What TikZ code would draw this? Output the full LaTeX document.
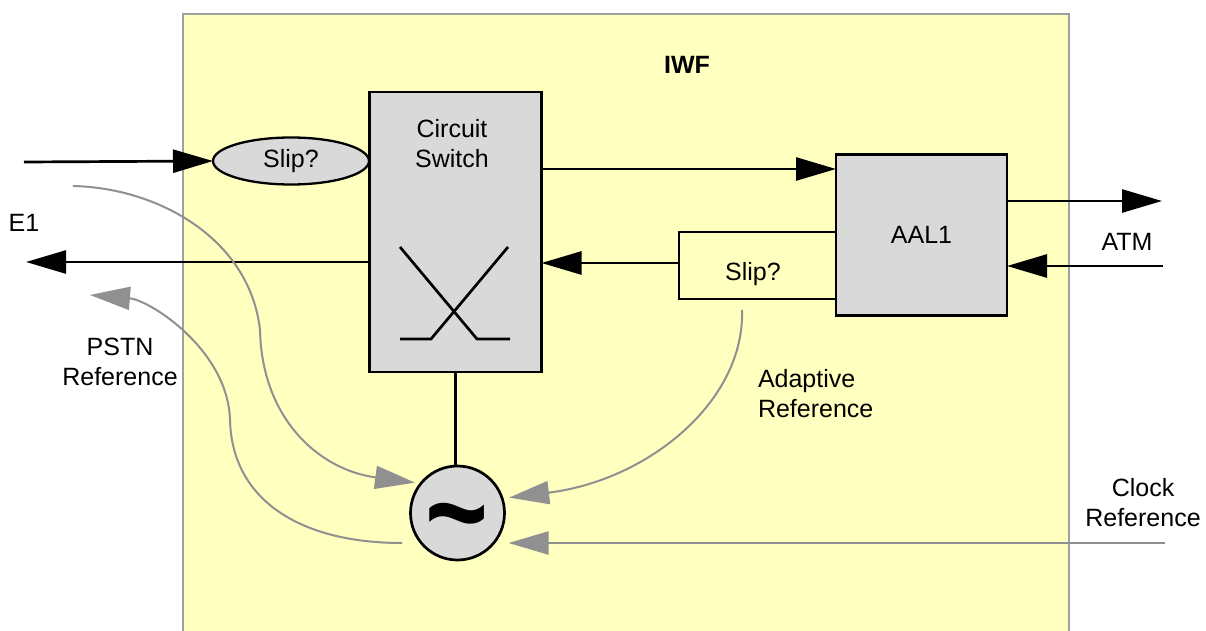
\documentclass[tikz,border=0pt]{standalone}
\usepackage{fontspec}
\setmainfont{Liberation Sans}
\usetikzlibrary{arrows.meta,shapes.geometric}
\definecolor{iwfyellow}{HTML}{FFFFC0}
\definecolor{boxgray}{HTML}{D9D9D9}
\definecolor{refgray}{HTML}{909090}
\definecolor{framegray}{HTML}{A0A0A0}
\begin{document}
\begin{tikzpicture}[x=1pt,y=-1pt,
  every node/.style={font=\fontsize{25}{30}\selectfont, inner sep=0pt, outer sep=0pt},
  block/.style={draw=black, line width=2.7pt, fill=boxgray},
  wire/.style={draw=black, line width=2.7pt},
  sig/.style={wire, -{Triangle[length=40pt,width=23pt]}},
  ref/.style={draw=refgray, line width=2pt, -{Triangle[length=40pt,width=23pt]}},
  lbl/.style={align=center}]
\useasboundingbox (0,0) rectangle (1206,631);
\clip (0,0) rectangle (1206,631);
\fill[white] (0,0) rectangle (1206,631);

% interworking function frame (open at the bottom)
\draw[framegray, line width=2pt, fill=iwfyellow] (183,680) -- (183,14) -- (1069,14) -- (1069,680);
\node (iwf) at (687,65) {\bfseries IWF};

% functional blocks
\node[block, minimum width=172pt, minimum height=280pt] (cs) at (455.5,232) {};
\node[lbl] (cslabel) at (452,144) {Circuit\\Switch};
\node[block, ellipse, line width=2.3pt, minimum width=156pt, minimum height=47pt] (slipin) at (291,161) {Slip?};
\node[block, minimum width=171pt, minimum height=161pt] (aal) at (921.5,235) {AAL1};
\node[block, circle, minimum size=94pt] (osc) at (457.5,513) {};
\node (tilde) at (457,530) {\scalebox{1.1}[1.35]{\fontsize{98}{98}\selectfont\bfseries\textasciitilde}};

% switching symbol
\draw[wire] (400,247) -- (477,339) -- (510,339);
\draw[wire] (508,247) -- (431,339) -- (400,339);

% E1 side
\coordinate (e1in) at (24,162);
\coordinate (e1out) at (26,262);
\draw[sig] (e1in) -- (slipin.west);
\draw[sig] (cs.west |- e1out) -- (e1out);
\node (e1) at (24,223) {E1};

% circuit switch to AAL1 and back through the slip buffer
\coordinate (fwd) at (0,169);
\draw[sig] (cs.east |- fwd) -- (aal.west |- fwd);
\coordinate (brtop) at (679,232);
\coordinate (brbot) at (679,299);
\coordinate (brmid) at (679,263);
\draw[wire] (aal.west |- brtop) -- (brtop) -- (brbot) -- (aal.west |- brbot);
\draw[sig] (brmid) -- (cs.east |- brmid);
\node (slipout) at (753,274) {Slip?};

% ATM side
\coordinate (atmout) at (1162,201);
\coordinate (atmin) at (1163,266);
\draw[sig] (aal.east |- atmout) -- (atmout);
\draw[sig] (atmin) -- (aal.east |- atmin);
\node (atm) at (1127,242) {ATM};

% clock distribution
\draw[wire] (cs.south) -- (cs.south |- osc.north);

% timing references
\coordinate (pstnsrc) at (73,186);
\draw[ref, shorten >=6pt] (pstnsrc) .. controls (160,188) and (250,240) .. (260,330)
  .. controls (262,420) and (320,470) .. (osc.141);
\coordinate (pstnstart) at (402,543);
\coordinate (pstntip) at (90,295);
\draw[ref] (pstnstart) .. controls (300,543) and (232,500) .. (230,420)
  .. controls (228,350) and (150,300) .. (pstntip);
\node[lbl] (pstn) at (120,362) {PSTN\\Reference};

\coordinate (adsrc) at (742,310);
\draw[ref, shorten >=7pt] (adsrc) .. controls (745,400) and (650,480) .. (osc.18);
\node[align=left, anchor=west] (adaptive) at (758,394) {Adaptive\\Reference};

\coordinate (clk) at (1165,543);
\draw[ref, shorten >=51pt] (clk) -- (clk -| osc.center);
\node[lbl] (clock) at (1143,503) {Clock\\Reference};
\end{tikzpicture}
\end{document}
